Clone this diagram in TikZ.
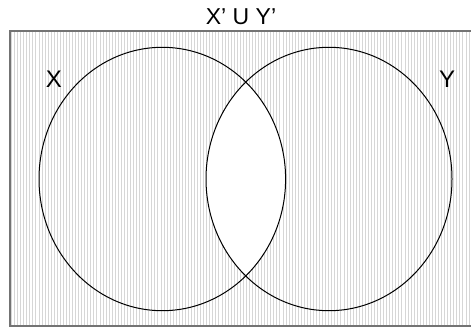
\documentclass[tikz,border=0pt]{standalone}
\usepackage{fontspec}
\setmainfont{Liberation Sans}
\tikzset{
  hatch/.style={draw=black!16, line width=0.9pt},
  frame/.style={draw=black!55, line width=1.6pt},
  setline/.style={draw=black, line width=1pt},
  lbl/.style={inner sep=0pt, font=\fontsize{24}{24}\selectfont},
  ttl/.style={inner sep=0pt, font=\fontsize{23}{23}\selectfont}
}
\begin{document}
\begin{tikzpicture}[x=1pt,y=-1pt]
\useasboundingbox (0,0) rectangle (471,329);
\begin{scope}
  \clip (10,31) rectangle (472,326);
  \foreach \i in {0,...,154} \draw[hatch] ({11.5+3.05*\i},31) -- ({11.5+3.05*\i},326);
\end{scope}
\begin{scope}
  \clip (162.3,179) ellipse [x radius=123.3, y radius=131.7];
  \fill[white] (329,179) ellipse [x radius=123, y radius=131.7];
\end{scope}
\draw[frame] (10,31) rectangle (473,326);
\draw[setline] (162.3,179) ellipse [x radius=123.3, y radius=131.7];
\draw[setline] (329,179) ellipse [x radius=123, y radius=131.7];
\node[ttl, anchor=base] (title) at (241,25) {X’ U Y’};
\node[lbl, anchor=base] (lx) at (54,87) {X};
\node[lbl, anchor=base] (ly) at (447,87) {Y};
\end{tikzpicture}
\end{document}
